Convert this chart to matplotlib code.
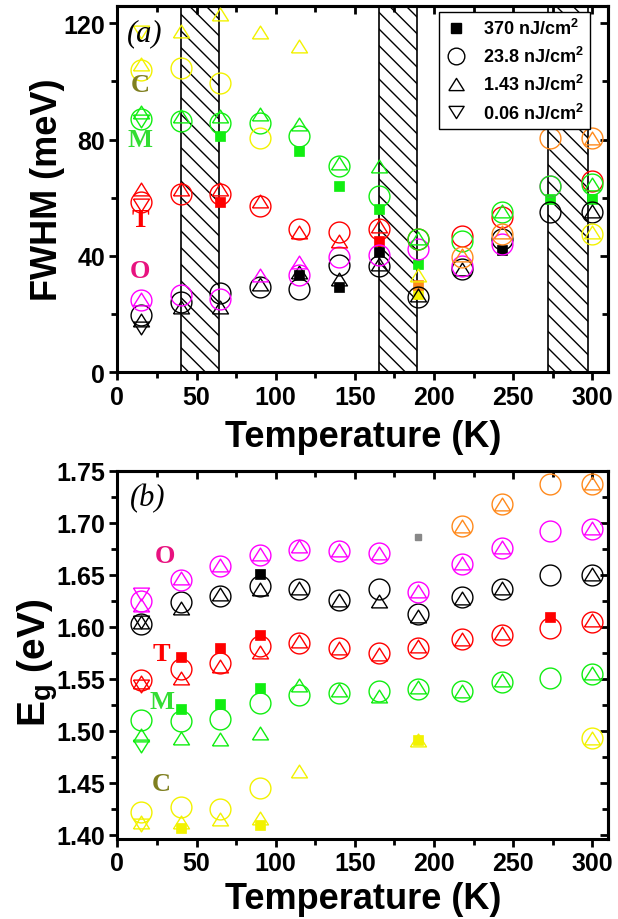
import numpy as np
import matplotlib
matplotlib.use('Agg')
import matplotlib.pyplot as plt
from matplotlib.ticker import MultipleLocator, FormatStrFormatter
from matplotlib.lines import Line2D

n = np.nan
temps = [15, 40, 65, 90, 115, 140, 165, 190, 218, 243, 273, 300]

# ---- panel (a): FWHM (meV) ----
a_black_sq = [n, n, n, n, 33.3, 29.4, 41.3, n, n, 41.9, n, n]
a_black_ci = [19.6, 24.2, 27.1, 29.3, 28.8, 37.0, 36.7, 25.9, 35.6, 45.9, 55.0, 55.0]
a_black_up = [18.0, 22.5, 22.5, 30.5, 34.5, 32.0, 37.3, 26.5, 35.6, n, n, 55.6]
a_black_dn = [15.1, n, n, n, n, n, n, n, n, n, n, n]

a_mag_ci = [24.8, 26.5, 25.3, n, 33.3, 39.6, 40.2, 42.5, 36.7, 44.2, 64.1, n]
a_mag_up = [25.3, n, n, 33.5, 38.0, n, n, n, n, n, n, n]

a_red_sq = [n, n, 58.5, n, n, n, 45.3, n, n, n, n, n]
a_red_ci = [58.4, 61.3, 61.3, 57.3, 49.3, 48.2, 49.3, 45.9, 47.0, 53.5, n, 65.9]
a_red_up = [63.0, 63.0, 63.0, 59.0, 48.2, 45.3, 50.4, n, n, n, n, n]
a_red_dn = [57.5, n, n, n, n, n, n, n, n, n, n, n]

a_grn_sq = [n, n, 81.3, n, 76.1, 64.1, 56.2, 37.3, n, n, 59.6, 59.6]
a_grn_ci = [87.0, 86.4, 85.8, 85.8, 81.3, 71.0, 60.7, 45.9, 45.3, 55.0, 64.1, 64.7]
a_grn_up = [89.4, 88.0, 88.0, 88.7, 85.3, 72.0, 71.0, 46.2, n, 55.6, n, 64.6]
a_grn_dn = [86.5, n, n, n, n, n, n, n, n, n, n, n]

a_yel_sq = [n, n, n, n, n, n, n, 27.0, n, n, n, n]
a_yel_ci = [104.0, 104.5, 99.5, 80.4, n, n, n, n, n, n, n, 47.6]
a_yel_up = [105.8, 117.2, 123.0, 117.0, 112.3, n, n, 33.3, n, n, n, 48.2]
a_yel_dn = [117.0, n, n, n, n, n, n, n, n, n, n, n]

a_org_sq = [n, n, n, n, n, n, n, 30.1, n, n, n, n]
a_org_ci = [n, n, n, n, n, n, n, n, 39.6, 47.6, 80.7, 80.7]
a_org_up = [n, n, n, n, n, n, n, n, 40.2, 48.2, n, 80.7]

hatch_spans = [(40, 64), (165, 189.5), (272, 297)]

# ---- panel (b): Eg (eV) ----
b_black_sq = [n, n, n, 1.651, n, n, n, n, n, n, n, n]
b_gray_sq = [n, n, n, n, n, n, n, 1.686, n, n, n, n]
b_black_ci = [1.603, 1.624, 1.630, 1.639, 1.636, 1.626, 1.636, 1.612, 1.629, 1.636, 1.650, 1.650]
b_black_up = [1.605, 1.618, 1.631, 1.636, 1.637, 1.626, 1.625, 1.610, 1.628, 1.637, n, 1.651]
b_black_dn = [1.605, n, n, n, n, n, n, n, n, n, n, n]

b_mag_ci = [1.625, 1.645, 1.658, 1.669, 1.674, 1.673, 1.671, 1.633, 1.660, 1.676, 1.692, 1.694]
b_mag_up = [1.621, 1.647, 1.659, 1.670, 1.678, 1.674, 1.671, 1.634, 1.661, 1.677, n, 1.695]
b_mag_dn = [1.631, n, n, n, n, n, n, n, n, n, n, n]

b_red_sq = [n, 1.571, 1.580, 1.592, n, n, n, n, n, n, 1.609, n]
b_red_ci = [1.549, 1.559, 1.565, 1.581, 1.584, 1.580, 1.575, 1.580, 1.588, 1.592, 1.599, 1.605]
b_red_up = [1.547, 1.551, 1.562, 1.576, 1.586, 1.580, 1.574, 1.581, 1.588, 1.594, n, 1.606]
b_red_dn = [1.543, n, n, n, n, n, n, n, n, n, n, n]

b_grn_sq = [n, 1.521, 1.526, 1.541, n, n, n, n, n, n, n, n]
b_grn_ci = [1.510, 1.509, 1.511, 1.527, 1.534, 1.536, 1.538, 1.540, 1.538, 1.547, 1.551, 1.555]
b_grn_up = [1.496, 1.493, 1.492, 1.498, 1.544, 1.539, 1.533, 1.542, 1.538, 1.549, n, 1.556]
b_grn_dn = [1.485, n, n, n, n, n, n, n, n, n, n, n]

b_yel_sq = [n, 1.407, n, 1.409, n, n, n, 1.491, n, n, n, n]
b_yel_ci = [1.422, 1.427, 1.425, 1.445, n, n, n, n, n, n, n, 1.493]
b_yel_up = [1.412, 1.412, 1.415, 1.416, 1.461, n, n, 1.491, n, n, n, 1.493]
b_yel_dn = [1.409, n, n, n, n, n, n, n, n, n, n, n]

b_org_ci = [n, n, n, n, n, n, n, n, 1.697, 1.718, 1.737, 1.737]
b_org_up = [n, n, n, n, n, n, n, n, 1.697, 1.718, n, 1.738]

legend_labels = [r'370 nJ/cm$^\mathbf{2}$', r'23.8 nJ/cm$^\mathbf{2}$',
                 r'1.43 nJ/cm$^\mathbf{2}$', r'0.06 nJ/cm$^\mathbf{2}$']

BLACK = 'black'
MAG = '#ff00ff'
RED = '#ff0000'
GRN = '#11ee11'
YEL = '#f2f200'
ORG = '#ff8a1c'
GRAY = '#888888'

plt.rcParams['font.family'] = 'Liberation Sans'
plt.rcParams['font.weight'] = 'bold'
plt.rcParams['mathtext.fontset'] = 'custom'
plt.rcParams['mathtext.rm'] = 'Liberation Sans:bold'
plt.rcParams['mathtext.bf'] = 'Liberation Sans:bold'
plt.rcParams['mathtext.it'] = 'Liberation Sans:bold'
plt.rcParams['hatch.linewidth'] = 1.0

TRI_UP = [(-1, -0.8), (1, -0.8), (0, 0.8), (-1, -0.8)]
TRI_DN = [(-1, 0.8), (1, 0.8), (0, -0.8), (-1, 0.8)]


def draw(ax, color, sq=None, ci=None, up=None, dn=None):
    if sq is not None:
        ax.plot(temps, sq, ls='none', marker='s', ms=7, mfc=color, mec=color, mew=0.5, zorder=3)
    if ci is not None:
        ax.plot(temps, ci, ls='none', marker='o', ms=15, mfc='none', mec=color, mew=1.0, zorder=4)
    if up is not None:
        ax.plot(temps, up, ls='none', marker=TRI_UP, ms=11.5, mfc='none', mec=color, mew=1.0, zorder=4)
    if dn is not None:
        ax.plot(temps, dn, ls='none', marker=TRI_DN, ms=11.5, mfc='none', mec=color, mew=1.0, zorder=4)


def style_axes(ax, ymajor, yminor):
    ax.set_xlim(0, 310)
    ax.xaxis.set_major_locator(MultipleLocator(50))
    ax.xaxis.set_minor_locator(MultipleLocator(25))
    ax.yaxis.set_major_locator(MultipleLocator(ymajor))
    ax.yaxis.set_minor_locator(MultipleLocator(yminor))
    ax.tick_params(which='both', direction='out', width=2, labelsize=18, pad=3)
    ax.tick_params(which='major', length=6)
    ax.tick_params(which='minor', length=4)
    for sp in ax.spines.values():
        sp.set_linewidth(2.2)
    top = ax.secondary_xaxis('top')
    top.xaxis.set_major_locator(MultipleLocator(50))
    top.xaxis.set_minor_locator(MultipleLocator(25))
    top.tick_params(which='both', direction='in', width=2, labeltop=False)
    top.tick_params(which='major', length=6)
    top.tick_params(which='minor', length=4)
    top.spines['top'].set_linewidth(2.2)
    right = ax.secondary_yaxis('right')
    right.yaxis.set_major_locator(MultipleLocator(ymajor))
    right.yaxis.set_minor_locator(MultipleLocator(yminor))
    right.tick_params(which='both', direction='in', width=2, labelright=False)
    right.tick_params(which='major', length=6)
    right.tick_params(which='minor', length=4)
    right.spines['right'].set_linewidth(2.2)
    ax.set_xlabel('Temperature (K)', fontsize=26, fontweight='bold', va='center')


fig = plt.figure(figsize=(6.18, 9.2), dpi=100)
ax1 = fig.add_axes([0.190, 0.5942, 0.794, 0.3985])
ax2 = fig.add_axes([0.190, 0.0870, 0.794, 0.4003])

# ---------- (a) ----------
for x0, x1 in hatch_spans:
    ax1.axvspan(x0, x1, facecolor='none', edgecolor='black', hatch='\\\\', lw=1.2, zorder=1)

draw(ax1, BLACK, a_black_sq, a_black_ci, a_black_up, a_black_dn)
draw(ax1, MAG, None, a_mag_ci, a_mag_up)
draw(ax1, RED, a_red_sq, a_red_ci, a_red_up, a_red_dn)
draw(ax1, GRN, a_grn_sq, a_grn_ci, a_grn_up, a_grn_dn)
draw(ax1, YEL, a_yel_sq, a_yel_ci, a_yel_up, a_yel_dn)
draw(ax1, ORG, a_org_sq, a_org_ci, a_org_up)

ax1.set_ylim(0, 126)
style_axes(ax1, 40, 20)
ax1.set_ylabel('FWHM (meV)', fontsize=26, fontweight='bold', va='center')
ax1.yaxis.set_label_coords(-0.142, 0.5)
ax1.xaxis.set_label_coords(0.5, -0.176)

serif = 'Liberation Serif'
ax1.text(17.3, 116.7, '(a)', fontsize=22, family=serif, style='italic', weight='normal',
         ha='center', va='center', zorder=6)
ax1.text(14.5, 98.8, 'C', fontsize=19, family=serif, weight='bold', color='#7f7f1f', ha='center', va='center', zorder=6)
ax1.text(14.5, 80.1, 'M', fontsize=19, family=serif, weight='bold', color='#33dd33', ha='center', va='center', zorder=6)
ax1.text(14.5, 52.5, 'T', fontsize=19, family=serif, weight='bold', color=RED, ha='center', va='center', zorder=6)
ax1.text(14.5, 35.1, 'O', fontsize=19, family=serif, weight='bold', color='#e8127f', ha='center', va='center', zorder=6)

handles = [
    Line2D([], [], ls='none', marker='s', ms=7, mfc='black', mec='black'),
    Line2D([], [], ls='none', marker='o', ms=12, mfc='none', mec='black', mew=1.0),
    Line2D([], [], ls='none', marker=TRI_UP, ms=11, mfc='none', mec='black', mew=1.0),
    Line2D([], [], ls='none', marker=TRI_DN, ms=11, mfc='none', mec='black', mew=1.0),
]
leg = ax1.legend(handles, legend_labels, loc='upper right', bbox_to_anchor=(0.963, 0.984),
                 borderaxespad=0, fontsize=13, frameon=True, fancybox=False, edgecolor='black',
                 framealpha=1, handlelength=1.2, handletextpad=0.9, labelspacing=0.45, borderpad=0.35)
leg.get_frame().set_linewidth(1.0)
leg.set_zorder(10)

# ---------- (b) ----------
draw(ax2, BLACK, b_black_sq, b_black_ci, b_black_up, b_black_dn)
ax2.plot(temps, b_gray_sq, ls='none', marker='s', ms=4, mfc=GRAY, mec=GRAY)
draw(ax2, MAG, None, b_mag_ci, b_mag_up, b_mag_dn)
draw(ax2, RED, b_red_sq, b_red_ci, b_red_up, b_red_dn)
draw(ax2, GRN, b_grn_sq, b_grn_ci, b_grn_up, b_grn_dn)
draw(ax2, YEL, b_yel_sq, b_yel_ci, b_yel_up, b_yel_dn)
draw(ax2, ORG, None, b_org_ci, b_org_up)

ax2.set_ylim(1.396, 1.75)
style_axes(ax2, 0.05, 0.025)
ax2.yaxis.set_major_formatter(FormatStrFormatter('%.2f'))
ax2.set_ylabel(r'E$_\mathbf{g}$ (eV)', fontsize=28, fontweight='bold', va='center')
ax2.yaxis.set_label_coords(-0.162, 0.48)
ax2.xaxis.set_label_coords(0.5, -0.163)

ax2.text(19.2, 1.724, '(b)', fontsize=22, family=serif, style='italic', weight='normal',
         ha='center', va='center', zorder=6)
ax2.text(30, 1.668, 'O', fontsize=19, family=serif, weight='bold', color='#e8127f', ha='center', va='center', zorder=6)
ax2.text(28, 1.5747, 'T', fontsize=19, family=serif, weight='bold', color=RED, ha='center', va='center', zorder=6)
ax2.text(28, 1.528, 'M', fontsize=19, family=serif, weight='bold', color='#33dd33', ha='center', va='center', zorder=6)
ax2.text(28, 1.449, 'C', fontsize=19, family=serif, weight='bold', color='#7f7f1f', ha='center', va='center', zorder=6)

fig.savefig('out.png', dpi=100)
